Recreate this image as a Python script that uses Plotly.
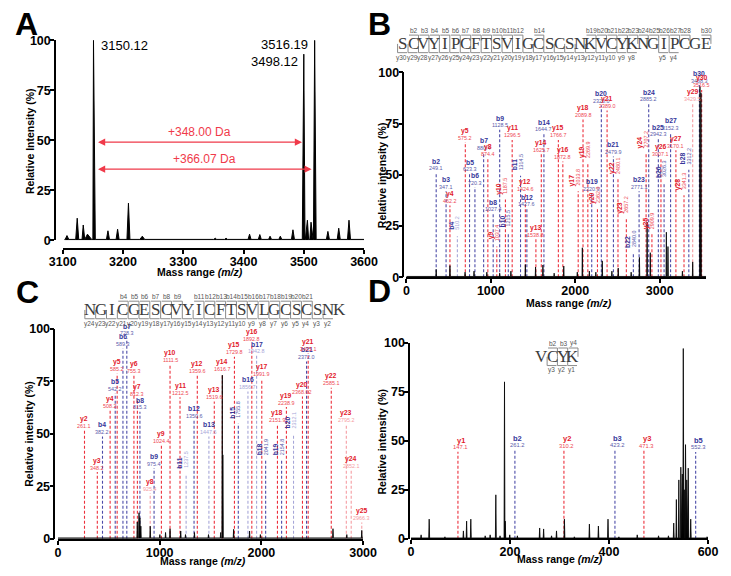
import plotly.graph_objects as go

W, H = 731, 576

# ======================= DATA =======================
# ---- Panel A : MS1 spectrum ----
A_mz  = [3107, 3124, 3134, 3141, 3151, 3175, 3191, 3209, 3232, 3353, 3371, 3391,
         3410, 3427, 3444, 3461, 3482, 3500, 3506, 3512, 3518, 3540, 3558, 3575]
A_int = [2.3, 11, 7.6, 3, 100, 4.7, 5.5, 18.5, 2, 1, 1, 0.6,
         3, 2.8, 2, 2, 5.2, 93, 10, 9, 100, 4.4, 6, 10]
A_wid = [3, 2.5, 2.5, 9, 3, 2.5, 2.5, 2.5, 4, 2.5, 2.5, 2.5,
         2.5, 2.5, 2.5, 2.5, 2.5, 2.5, 4, 4, 2.5, 2.5, 2.5, 2.5]
A_lab_text = ["3150.12", "3516.19", "3498.12"]
A_lab_mz   = [3159.6, 3511, 3493.5]
A_lab_int  = [97.5, 98, 89.5]
A_lab_side = ["left", "right", "right"]
A_shift_text = ["+348.00 Da", "+366.07 Da"]
A_shift_from = [3156, 3156]
A_shift_to   = [3497, 3513]
A_shift_int  = [49, 35.5]
A_xticks = [3100, 3200, 3300, 3400, 3500, 3600]

# ---- Panel B : MS/MS of SCVYIPCFTSVIGCSCSNKVCYKNGIPCGE ----
B_seq = "SCVYIPCFTSVIGCSCSNKVCYKNGIPCGE"
B_top_res = [2, 3, 4, 5, 6, 7, 8, 9, 10, 11, 12, 14, 19, 20, 21, 22, 23, 24, 25, 26, 27, 28, 30]
B_top_txt = ["b%d" % i for i in B_top_res]
B_bot_k = [30, 29, 28, 27, 26, 25, 24, 23, 22, 21, 20, 19, 18, 17, 16, 15, 14, 13, 12, 11, 10, 9, 8, 5, 4]
B_ion = ["b2", "b3", "y4", "b4", "y5", "b5", "b6", "b7", "y8", "b8", "y9", "b9", "y10", "b10", "y11", "b11",
         "y12", "b12", "y13", "y14", "b14", "y15", "y16", "y17", "y18", "y19", "b19", "y20", "b20", "y21",
         "b21", "y22", "y23", "b22", "b23", "y24", "b24", "y25", "b25", "y26", "b26", "b27", "y27", "y28",
         "b28", "y29", "b30", "y30"]
B_mztxt = ["249.1", "347.1", "462.2", "510.2", "575.2", "623.3", "720.3", "880.4", "874.4", "1027.4",
           "1037.4", "1128.5", "1187.5", "1215.5", "1296.5", "1314.5", "1424.6", "1427.6", "1538.8",
           "1625.7", "1644.7", "1766.7", "1872.8", "2033.8", "2089.8", "2269.9", "2220.9", "2362.0",
           "2320.0", "2389.0", "2479.9", "2480.1", "2657.2", "2840.0", "2771.1", "2707.2", "2885.2",
           "2909.9", "2942.3", "3007.1", "3026.3", "3152.3", "3170.1", "3341.3", "3312.2", "3429.5",
           "3488.3", "3516.5"]
B_pos = [353, 470, 516, 604, 698, 748, 812, 915, 965, 1028, 1071, 1105, 1173, 1207, 1253, 1352, 1409,
         1427, 1534, 1598, 1629, 1800, 1853, 2035, 2092, 2149, 2195, 2263, 2309, 2377, 2452, 2506, 2605,
         2688, 2756, 2839, 2870, 2908, 2984, 3015, 3052, 3129, 3192, 3288, 3345, 3391, 3470, 3497]
B_top = [51, 42, 35, 20, 66, 50.5, 44, 61, 58, 31, 15, 72, 38, 22, 67, 49.5, 41, 33.5, 18.6, 60, 70, 67,
         56.5, 42, 77, 55.7, 41, 33.5, 84, 81.4, 59, 48, 28.7, 12, 42, 60.5, 84.6, 21, 67.6, 57.8, 46,
         70.8, 62, 40, 52.5, 84.6, 93.8, 91.4]
B_rot = ["b4", "y9", "y10", "b10", "b11", "y17", "y19", "y20", "y22", "y23", "b22", "y24", "y25", "b26", "y28", "b28"]
B_light = ["b4", "y29"]
B_mz  = [353, 516, 695, 801, 953, 1105, 1238, 1409, 1530, 1617, 1750, 1864, 2024, 2084, 2167, 2244,
         2320, 2434, 2509, 2662, 2760, 2851, 2889, 3079, 3098, 3269, 3391, 3477, 3489]
B_int = [3.8, 5.7, 2.5, 3, 2.5, 2, 3, 6.2, 5, 6, 2, 5.5, 2.5, 14.4, 3, 2.5,
         8, 3, 4.5, 2.5, 9.7, 27, 12, 22, 15, 3, 7.5, 93, 90]
B_xticks = [0, 1000, 2000, 3000]

# ---- Panel C : MS/MS of NGICGESCVYICFTSVLGCSCSNK ----
C_seq = "NGICGESCVYICFTSVLGCSCSNK"
C_top_res = [4, 5, 6, 7, 8, 9, 11, 12, 13, 14, 15, 16, 17, 18, 19, 20, 21]
C_top_txt = ["b%d" % i for i in C_top_res]
C_bot_k = [24, 23, 22, 21, 20, 19, 18, 17, 16, 15, 14, 13, 12, 11, 10, 9, 8, 7, 6, 5, 4, 3, 2]
C_ion = ["y2", "y3", "b4", "y4", "b5", "y5", "b6", "b7", "y6", "y7", "b8", "y8", "b9", "y9", "y10", "y11",
         "b11", "b12", "y12", "b13", "y13", "y14", "y15", "b15", "b16", "y16", "b17", "y17", "b18", "y18",
         "b19", "y19", "b20", "y20", "b21", "y21", "y22", "y23", "y24", "y25"]
C_mztxt = ["261.1", "348.2", "382.2", "508.2", "542.2", "585.2", "589.3", "728.3", "755.3", "812.3",
           "815.3", "925.4", "975.4", "1024.4", "1111.5", "1212.5", "1237.5", "1350.6", "1359.6", "1447.6",
           "1519.6", "1616.7", "1729.8", "1755.8", "1856.7", "1892.8", "1942.8", "1991.9", "2041.9",
           "2151.9", "2154.8", "2238.9", "2312.1", "2368.02", "2372.0", "2425.1", "2585.1", "2795.2",
           "2852.1", "2966.3"]
C_pos = [261, 387, 438, 513, 563, 582, 639, 677, 747, 781, 806, 907, 945, 1017, 1102, 1200, 1260, 1338,
         1370, 1484, 1537, 1616, 1735, 1773, 1868, 1906, 1953, 2004, 2042, 2158, 2199, 2246, 2316, 2404,
         2444, 2460, 2687, 2835, 2883, 2987]
C_top = [51.6, 31.8, 48.8, 61.2, 69.3, 78.8, 90.7, 95.7, 78, 66.7, 60.5, 21.7, 33.6, 44.5, 83.2, 67.4, 31,
         56.6, 78, 48.8, 65.4, 78.6, 86.8, 55, 70.2, 93, 87.3, 76.3, 37.2, 54.3, 37.2, 62.8, 50, 67.8, 84.5,
         88.4, 72, 54.3, 32.6, 7.8]
C_rot = ["b11", "b15", "b18", "b19", "b20"]
C_light = ["y8", "b11", "b13", "b16", "b17", "b20", "y23", "y24", "y25"]
C_mz  = [780, 797, 806, 815, 907, 1002, 1058, 1102, 1207, 1254, 1342, 1480, 1600, 1616, 1621, 1727,
         1884, 1990, 2704, 2840, 2987]
C_int = [8, 12.4, 10, 6, 6, 2, 3, 4.8, 3.7, 2, 3, 2, 3, 78, 40, 4.5, 3.7, 2, 4.8, 2, 4]
C_xticks = [0, 1000, 2000, 3000]

# ---- Panel D : MS/MS of VCYK ----
D_seq = "VCYK"
D_top_res = [2, 3, 4]
D_top_txt = ["b2", "b3", "y4"]
D_bot_res = [2, 3, 4]
D_bot_txt = ["y3", "y2", "y1"]
D_ion = ["y1", "b2", "y2", "b3", "y3", "b5"]
D_mztxt = ["147.1", "261.2", "310.2", "423.2", "471.3", "552.3"]
D_pos = [95, 210, 309, 412, 470.5, 575]
D_top = [44.4, 45.3, 45, 45.3, 45, 44.3]
D_mz  = [20.6, 36.9, 68.7, 106, 112.5, 121, 150, 160, 171.5, 180, 189, 190.5, 199.6, 215, 260, 268, 284,
         294, 310, 330, 360.4, 378.6, 398, 420, 457, 500, 520, 530.7, 536, 541, 545, 548, 550, 552,
         554.5, 557, 560, 565, 598]
D_int = [2, 10, 1, 4, 9, 10, 1.5, 2, 22.4, 1.5, 80, 9, 2, 1.5, 5.5, 5, 1.5, 4, 10, 1, 7.5, 6.5, 10, 1,
         2, 1.5, 1.5, 8, 20, 30, 36.5, 33, 97, 25, 48, 30, 36, 10, 1]
D_xticks = [0, 200, 400, 600]

Y_ticks = [0, 25, 50, 75, 100]

# ======================= STYLE =======================
SANS = "Liberation Sans, Arial, sans-serif"
SERIF = "Liberation Serif, DejaVu Serif, serif"
BLUE_L, BLUE_LL = "#4b4ba8", "#a6a6d8"
RED_L, RED_LL = "#ec2f3b", "#f59ca2"
BLUE_T, RED_T = "#35359a", "#e2202c"
BLUE_V, RED_V = "#5a5aaa", "#ee4852"

fig = go.Figure()
anns = []
shapes = []


def ann(**kw):
    d = dict(showarrow=False, xanchor="center", yanchor="middle")
    d.update(kw)
    anns.append(d)


common = dict(showgrid=False, zeroline=False, showline=True, linecolor="black", linewidth=1.6,
              ticks="outside", ticklen=4, tickwidth=1.6, tickcolor="black", ticklabelstandoff=-3,
              tickfont=dict(family=SANS, size=12.5, color="black", weight="bold"))


def xax(d0, d1, rng, pos, tv):
    return dict(domain=[d0 / W, d1 / W], range=rng, anchor="free", position=1 - pos / H,
                tickvals=tv, **common)


def yax(b, t, pos):
    return dict(domain=[1 - b / H, 1 - t / H], range=[0, 100], anchor="free", position=pos / W,
                tickvals=Y_ticks, **common)


def spectrum(mz, inten, widths, lo, hi, xa, ya, lw=0.8):
    pts = [(lo, 0.4), (hi, 0.4)]
    for m, h, w in zip(mz, inten, widths):
        pts += [(m - w, 0.4), (m, h), (m + w, 0.4)]
    pts.sort()
    fig.add_trace(go.Scatter(x=[p[0] for p in pts], y=[p[1] for p in pts], mode="lines",
                             line=dict(color="black", width=lw), fill="tozeroy", fillcolor="black",
                             xaxis=xa, yaxis=ya, hoverinfo="skip"))


def ion_lines(ions, pos, tops, light, xa, ya):
    groups = {}
    for n, p, t in zip(ions, pos, tops):
        isb = n.startswith("b")
        col = (BLUE_LL if n in light else BLUE_L) if isb else (RED_LL if n in light else RED_L)
        g = groups.setdefault(col, ([], []))
        g[0].extend([p, p, None])
        g[1].extend([0, t, None])
    for col, (xs, ys) in groups.items():
        fig.add_trace(go.Scatter(x=xs, y=ys, mode="lines", line=dict(color=col, width=1.1, dash="3px,2px"),
                                 xaxis=xa, yaxis=ya, hoverinfo="skip"))


def ion_labels(ions, txts, pos, tops, rot, light, xr, yr, dx=0, fs=(6.8, 5.4)):
    for n, t, p, h in zip(ions, txts, pos, tops):
        isb = n.startswith("b")
        c1 = BLUE_T if isb else RED_T
        c2 = (BLUE_LL if n in light else BLUE_V) if isb else (RED_LL if n in light else RED_V)
        if n in rot:
            ann(x=p, y=h, xref=xr, yref=yr, text="<b>" + n + "</b>", textangle=-90, xshift=-6, yshift=11,
                font=dict(family=SANS, size=fs[0], color=c1))
            ann(x=p, y=h, xref=xr, yref=yr, text=t, textangle=-90, xshift=0, yshift=14,
                font=dict(family=SANS, size=fs[1], color=c2))
        else:
            ann(x=p, y=h, xref=xr, yref=yr, text="<b>" + n + "</b>", xshift=dx, yshift=11.5,
                font=dict(family=SANS, size=fs[0], color=c1))
            ann(x=p, y=h, xref=xr, yref=yr, text=t, xshift=dx, yshift=4.5,
                font=dict(family=SANS, size=fs[1], color=c2))


def seq_map(seq, c0, step, yc, top_res, top_txt, bot_res, bot_txt, fs=17):
    def X(v):
        return v / W

    def Y(v):
        return 1 - v / H
    top, bot, mid = yc - 8.5, yc + 9.5, yc + 0.5
    for i, ch in enumerate(seq):
        ann(x=X(c0 + i * step), y=Y(yc), xref="paper", yref="paper", text=ch,
            font=dict(family=SERIF, size=fs, color="#3c3c3c"))
    lc = dict(color="#8a8a8a", width=1)
    for r, t in zip(top_res, top_txt):
        cx = c0 + (r - 1) * step
        bx = cx + step / 2
        shapes.append(dict(type="line", xref="paper", yref="paper", x0=X(cx - step / 2 + 1), x1=X(bx),
                           y0=Y(top), y1=Y(top), line=lc))
        shapes.append(dict(type="line", xref="paper", yref="paper", x0=X(bx), x1=X(bx),
                           y0=Y(top), y1=Y(mid), line=lc))
        ann(x=X(cx + 1), y=Y(top - 5), xref="paper", yref="paper", text=t,
            font=dict(family=SANS, size=6.5, color="#555555"))
    for r, t in zip(bot_res, bot_txt):
        cx = c0 + (r - 1) * step
        lx = cx - step / 2
        shapes.append(dict(type="line", xref="paper", yref="paper", x0=X(lx), x1=X(lx),
                           y0=Y(mid), y1=Y(bot), line=lc))
        shapes.append(dict(type="line", xref="paper", yref="paper", x0=X(lx), x1=X(cx + step / 2 - 1),
                           y0=Y(bot), y1=Y(bot), line=lc))
        ann(x=X(cx - 1), y=Y(bot + 5), xref="paper", yref="paper", text=t,
            font=dict(family=SANS, size=6.5, color="#555555"))


# ======================= PANEL A =======================
spectrum(A_mz, A_int, A_wid, 3103, 3600, "x", "y", lw=1)
for t, m, h, s in zip(A_lab_text, A_lab_mz, A_lab_int, A_lab_side):
    ann(x=m, y=h, xref="x", yref="y", text=t, xanchor=s, font=dict(family=SANS, size=13, color="black"))
for t, a, b, h in zip(A_shift_text, A_shift_from, A_shift_to, A_shift_int):
    anns.append(dict(x=b, y=h, ax=a, ay=h, xref="x", yref="y", axref="x", ayref="y", text="",
                     showarrow=True, arrowhead=2, arrowside="end+start", arrowsize=1.1, arrowwidth=1.3,
                     arrowcolor="#f03a4a"))
    ann(x=(a + b) / 2, y=h, yshift=10.5, xref="x", yref="y", text=t,
        font=dict(family=SANS, size=12, color="#f03a4a"))

# ======================= PANEL B =======================
ion_lines(B_ion, B_pos, B_top, B_light, "x2", "y2")
spectrum(B_mz, B_int, [4] * len(B_mz), 0, 3550, "x2", "y2", lw=0.8)
ion_labels(B_ion, B_mztxt, B_pos, B_top, B_rot, B_light, "x2", "y2")
seq_map(B_seq, 404.3, 10.86, 37.3, B_top_res, B_top_txt,
        [len(B_seq) + 1 - k for k in B_bot_k], ["y%d" % k for k in B_bot_k])

# ======================= PANEL C =======================
ion_lines(C_ion, C_pos, C_top, C_light, "x3", "y3")
spectrum(C_mz, C_int, [4] * len(C_mz), 0, 3000, "x3", "y3", lw=0.8)
ion_labels(C_ion, C_mztxt, C_pos, C_top, C_rot, C_light, "x3", "y3")
seq_map(C_seq, 79.3, 11.26, 310, C_top_res, C_top_txt,
        [len(C_seq) + 1 - k for k in C_bot_k], ["y%d" % k for k in C_bot_k])

# ======================= PANEL D =======================
ion_lines(D_ion, D_pos, D_top, [], "x4", "y4")
spectrum(D_mz, D_int, [0.9] * len(D_mz), 0, 600, "x4", "y4", lw=0.8)
ion_labels(D_ion, D_mztxt, D_pos, D_top, [], [], "x4", "y4", dx=3, fs=(7.5, 5.8))
seq_map(D_seq, 549, 10.7, 358, D_top_res, D_top_txt, D_bot_res, D_bot_txt)

# ======================= TITLES / LETTERS =======================
for L, x, y in [("A", 13, 17), ("B", 380, 17), ("C", 14, 292), ("D", 380, 291)]:
    ann(x=x / W, y=1 - y / H, xref="paper", yref="paper", text="<b>" + L + "</b>",
        font=dict(family=SANS, size=32, color="black"))
xt = "<b>Mass range <i>(m/z)</i></b>"
for x, y in [(193, 272), (577, 303), (197, 567.5), (568, 566)]:
    ann(x=x / W, y=1 - y / H, xref="paper", yref="paper", text=xt,
        font=dict(family=SANS, size=10.5, color="black"))
for t, x, y in [("Relative Intensity (%)", 16, 137), ("Relative intensity (%)", 382, 172),
                ("Relative intensity (%)", 16, 437), ("Relative intensity (%)", 383, 445)]:
    ann(x=x / W, y=1 - y / H, xref="paper", yref="paper", text="<b>" + t + "</b>", textangle=-90,
        font=dict(family=SANS, size=10.5, color="black"))

fig.update_layout(
    width=W, height=H, margin=dict(l=0, r=0, t=0, b=0),
    paper_bgcolor="white", plot_bgcolor="white", showlegend=False,
    xaxis=xax(50.7, 364, [3100, 3600], 248, A_xticks),
    yaxis=yax(239, 34, 42.7),
    xaxis2=xax(408, 719.7, [0, 3550], 277.5, B_xticks),
    yaxis2=yax(277, 67, 405),
    xaxis3=xax(45.7, 363, [0, 3000], 546, C_xticks),
    yaxis3=yax(545, 330, 42),
    xaxis4=xax(412.7, 721.7, [0, 600], 545.5, D_xticks),
    yaxis4=yax(545, 344, 411),
    annotations=anns, shapes=shapes,
)
fig.write_html("out.html")
